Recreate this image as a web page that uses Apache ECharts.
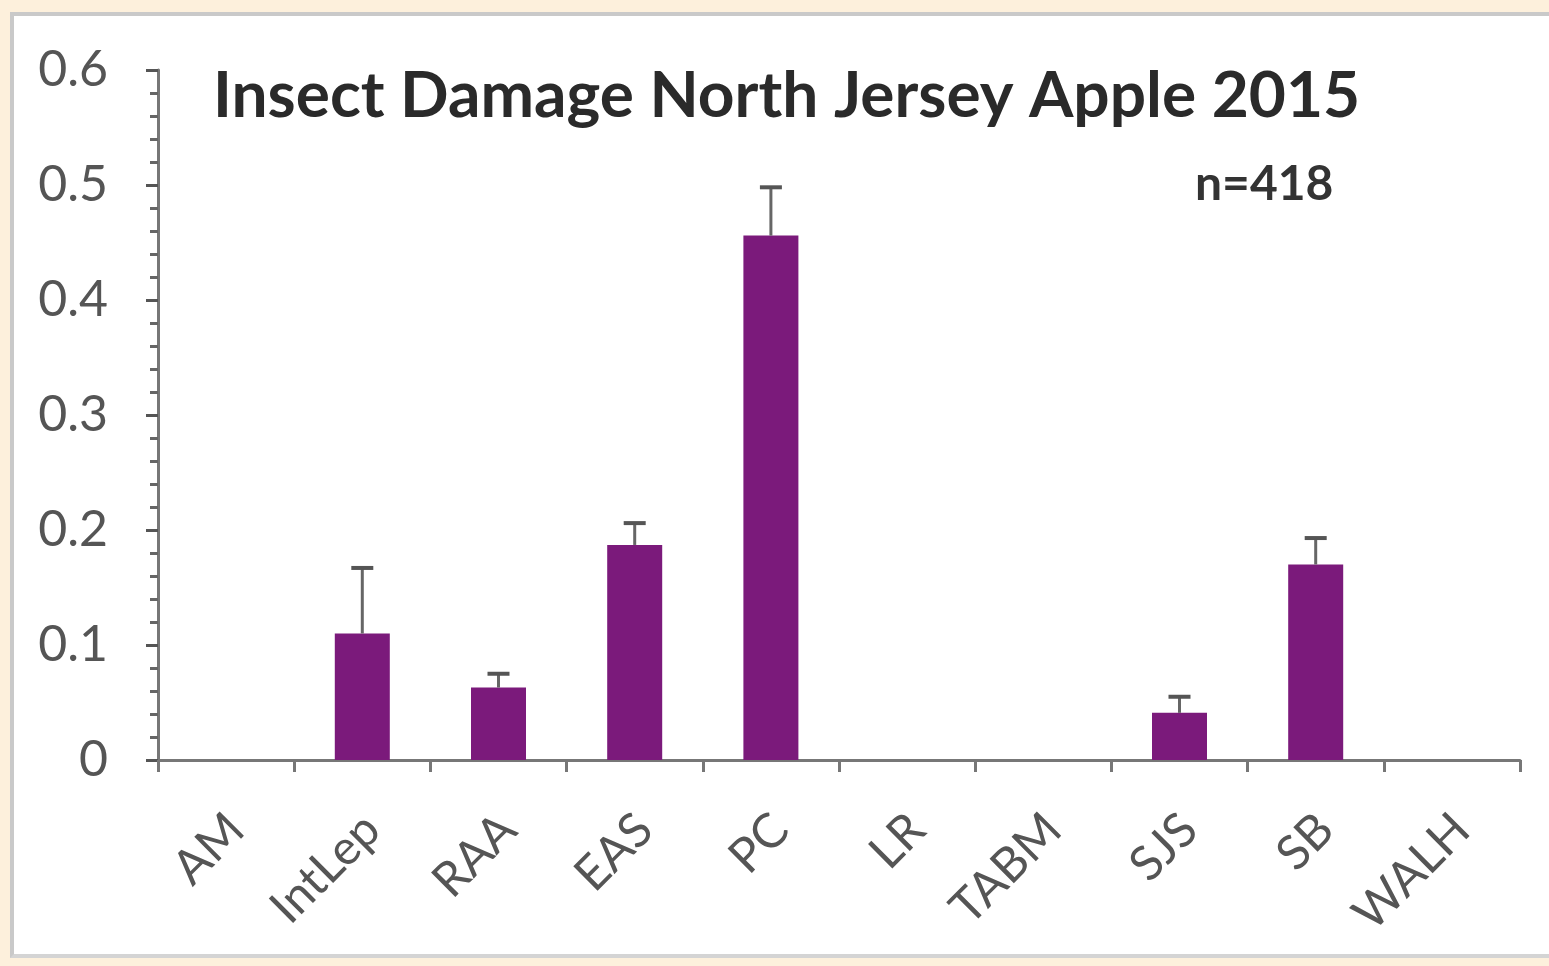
<!DOCTYPE html>
<html>
<head>
<meta charset="utf-8">
<script src="https://cdn.jsdelivr.net/npm/echarts@6/dist/echarts.min.js"></script>
<style>
html,body{margin:0;padding:0;background:#fdf0dc;}
#panel{position:absolute;left:10px;top:12px;width:1539px;height:946px;background:#fff;border-top:4px solid #c9c9c9;border-left:4px solid #c9c9c9;border-bottom:4px solid #d4d4d4;box-sizing:border-box;}
#chart{position:absolute;left:0;top:0;width:1549px;height:966px;}
</style>
</head>
<body>
<div id="panel"></div>
<div id="chart"></div>
<script>
const categories = ['AM','IntLep','RAA','EAS','PC','LR','TABM','SJS','SB','WALH'];
const damage = [0, 0.110, 0.063, 0.187, 0.456, 0, 0, 0.041, 0.170, 0];
const errorUpper = [0, 0.167, 0.075, 0.206, 0.498, 0, 0, 0.055, 0.193, 0];
const yTicks = [0, 0.1, 0.2, 0.3, 0.4, 0.5, 0.6];
const titleText = 'Insect Damage North Jersey Apple 2015';
const noteText = 'n=418';

const chart = echarts.init(document.getElementById('chart'), null, {renderer:'canvas'});
const errData = categories.map((c,i)=>[i, damage[i], errorUpper[i]]);
chart.setOption({
  backgroundColor:'transparent',
  animation:false,
  grid:{left:158, right:29, top:70, bottom:206},
  graphic:[
    {type:'text', left:213, top:64, style:{text:titleText, font:'bold 64px Lato', fill:'#2a2a2a'}},
    {type:'text', left:1195, top:161, style:{text:noteText, font:'bold 48px Lato', fill:'#333'}}
  ],
  xAxis:{
    type:'category', data:categories, boundaryGap:true,
    axisLine:{lineStyle:{color:'#777', width:3}},
    axisTick:{show:true, length:12, lineStyle:{color:'#777', width:3}},
    axisLabel:{rotate:45, fontSize:48, color:'#555', fontFamily:'Lato', margin:52, verticalAlign:'top', lineHeight:28}
  },
  yAxis:{
    type:'value', min:yTicks[0], max:yTicks[yTicks.length-1], interval:0.1,
    axisLine:{show:true, lineStyle:{color:'#777', width:3}},
    axisTick:{show:true, inside:false, length:12, lineStyle:{color:'#555', width:3}},
    minorTick:{show:true, splitNumber:5, length:8, lineStyle:{color:'#666', width:3}},
    splitLine:{show:false},
    axisLabel:{fontSize:50, color:'#555', fontFamily:'Lato', margin:50, formatter:v=>String(Math.round(v*10)/10)}
  },
  series:[
    {type:'bar', data:damage, barWidth:55, itemStyle:{color:'#7b1a7b'}, z:2},
    {type:'custom', data:errData, z:3,
     renderItem:function(params, api){
       const i=api.value(0), v=api.value(1), u=api.value(2);
       if(u<=v) return null;
       const p0=api.coord([i,v]), p1=api.coord([i,u]);
       return {type:'group', children:[
         {type:'line', shape:{x1:p0[0],y1:p0[1],x2:p1[0],y2:p1[1]}, style:{stroke:'#666', lineWidth:3}},
         {type:'line', shape:{x1:p1[0]-11,y1:p1[1],x2:p1[0]+11,y2:p1[1]}, style:{stroke:'#555', lineWidth:4}}
       ]};
     }}
  ]
});
</script>
</body>
</html>
